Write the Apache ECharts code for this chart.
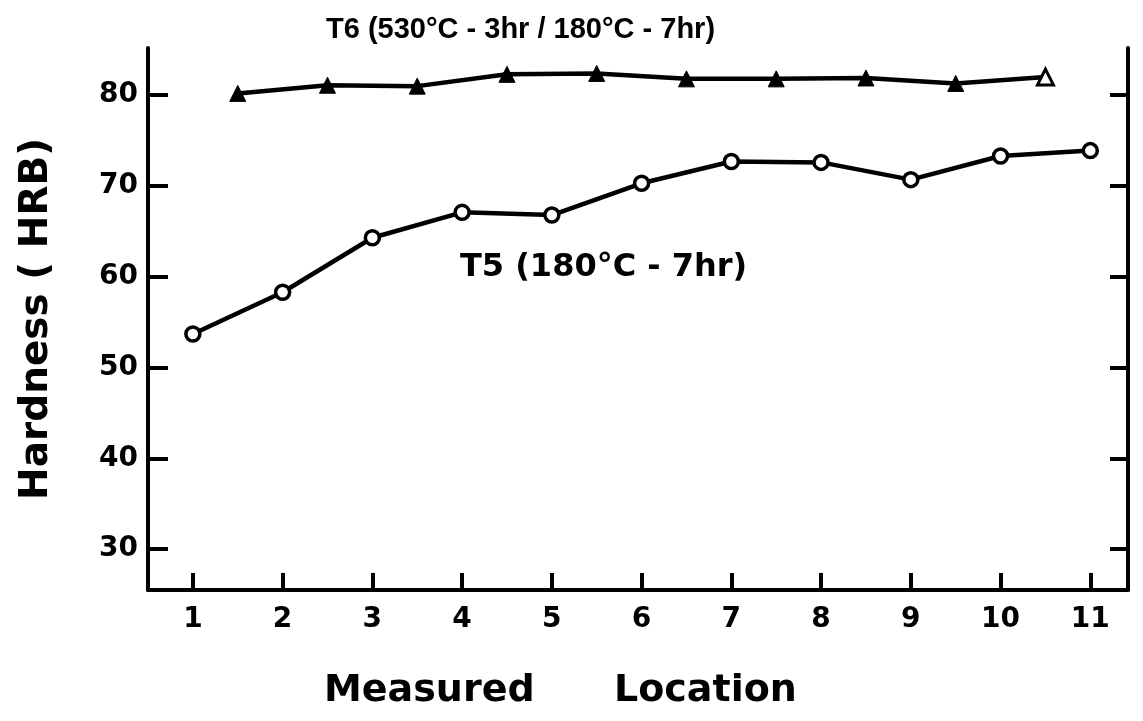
<!DOCTYPE html>
<html>
<head>
<meta charset="utf-8">
<script src="https://cdn.jsdelivr.net/npm/echarts@6/dist/echarts.min.js"></script>
<style>
  html, body { margin: 0; padding: 0; background: #fff; }
  #chart { width: 1143px; height: 721px; }
</style>
</head>
<body>
<div id="chart"></div>
<script>
// tick labels
var xTicks = [1, 2, 3, 4, 5, 6, 7, 8, 9, 10, 11];
var yTicks = [30, 40, 50, 60, 70, 80];

// T5 (180°C - 7hr), measured at the integer locations
var t5Location = [1, 2, 3, 4, 5, 6, 7, 8, 9, 10, 11];
var t5Hardness = [53.7, 58.3, 64.3, 67.1, 66.8, 70.3, 72.7, 72.6, 70.7, 73.3, 73.9];

// T6 (530°C - 3hr / 180°C - 7hr), measured between the locations
var t6Location = [1.5, 2.5, 3.5, 4.5, 5.5, 6.5, 7.5, 8.5, 9.5, 10.5];
var t6Hardness = [80.2, 81.1, 81.0, 82.3, 82.4, 81.8, 81.8, 81.9, 81.3, 82.0];

var t6Title = 'T6 (530°C - 3hr / 180°C - 7hr)';
var t5Title = 'T5 (180°C - 7hr)';

var ink = '#000';
var heavy = 'DejaVu Sans';

var t5Data = [];
for (var i = 0; i < t5Location.length; i++) {
    t5Data.push([t5Location[i], t5Hardness[i]]);
}

var t6Data = [];
for (var i = 0; i < t6Location.length; i++) {
    var point = { value: [t6Location[i], t6Hardness[i]] };
    // the last triangle is drawn open in the figure
    if (i == t6Location.length - 1) {
        point.itemStyle = { color: '#fff', borderColor: ink, borderWidth: 3 };
    }
    t6Data.push(point);
}

var chart = echarts.init(document.getElementById('chart'));

var option = {
    backgroundColor: '#fff',
    animation: false,
    grid: { left: 148, right: 15, top: 48, bottom: 131, outerBoundsMode: 'none' },
    xAxis: {
        type: 'value',
        min: 0.5,
        max: 11.42,
        splitLine: { show: false },
        axisLine: { show: true, onZero: false, lineStyle: { color: ink, width: 4 } },
        axisTick: {
            show: true,
            inside: true,
            length: 17,
            customValues: xTicks,
            lineStyle: { color: ink, width: 4 }
        },
        axisLabel: {
            customValues: xTicks,
            margin: 16,
            color: ink,
            fontFamily: heavy,
            fontWeight: 'bold',
            fontSize: 28
        }
    },
    yAxis: [{
        type: 'value',
        min: 25.5,
        max: 85.2,
        name: 'Hardness ( HRB)',
        nameLocation: 'middle',
        nameRotate: 90,
        nameGap: 92,
        nameTextStyle: {
            color: ink,
            fontFamily: heavy,
            fontWeight: 'bold',
            fontSize: 39
        },
        splitLine: { show: false },
        axisLine: { show: true, lineStyle: { color: ink, width: 4 } },
        axisTick: {
            show: true,
            inside: true,
            length: 20,
            customValues: yTicks,
            lineStyle: { color: ink, width: 4 }
        },
        axisLabel: {
            customValues: yTicks,
            margin: 10,
            color: ink,
            fontFamily: heavy,
            fontWeight: 'bold',
            fontSize: 28
        }
    }, {
        type: 'value',
        position: 'right',
        min: 25.5,
        max: 85.2,
        splitLine: { show: false },
        axisLine: { show: true, lineStyle: { color: ink, width: 4 } },
        axisTick: {
            show: true,
            inside: true,
            length: 18,
            customValues: yTicks,
            lineStyle: { color: ink, width: 4 }
        },
        axisLabel: { show: false }
    }],
    series: [{
        name: t6Title,
        type: 'line',
        data: t6Data,
        symbol: 'triangle',
        symbolSize: 16,
        lineStyle: { color: ink, width: 4.5 },
        itemStyle: { color: ink, borderColor: ink, borderWidth: 1 }
    }, {
        name: t5Title,
        type: 'line',
        data: t5Data,
        symbol: 'circle',
        symbolSize: 14,
        lineStyle: { color: ink, width: 4.5 },
        itemStyle: { color: '#fff', borderColor: ink, borderWidth: 3.5 }
    }],
    graphic: [{
        type: 'text',
        left: 326,
        top: 15,
        style: {
            text: t6Title,
            fill: ink,
            font: 'bold 29px "Liberation Sans"'
        }
    }, {
        type: 'text',
        left: 460,
        top: 252,
        style: {
            text: t5Title,
            fill: ink,
            font: 'bold 32px "DejaVu Sans"'
        }
    }, {
        type: 'text',
        left: 324,
        top: 672,
        style: {
            text: 'Measured      Location',
            fill: ink,
            font: 'bold 38px "DejaVu Sans"'
        }
    }]
};

chart.setOption(option);
</script>
</body>
</html>
